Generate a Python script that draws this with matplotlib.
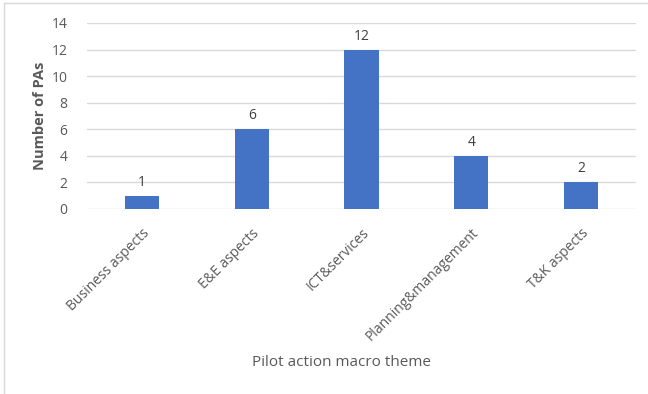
import numpy as np
import matplotlib.pyplot as plt
from matplotlib.lines import Line2D

themes = ['Business aspects', 'E&E aspects', 'ICT&services',
          'Planning&management', 'T&K aspects']
pas = [1, 6, 12, 4, 2]

plt.rcParams['font.family'] = ['Open Sans', 'DejaVu Sans']
grey = '#595959'

fig = plt.figure(figsize=(6.48, 3.94), dpi=100)
ax = fig.add_axes([87/648, 1 - 209/394, (636-87)/648, (209-23)/394])

x = np.arange(len(themes))
ax.bar(x, pas, width=0.31, color='#4472C4', zorder=3)
for xi, v in zip(x, pas):
    ax.text(xi, v + 0.45, str(v), ha='center', va='bottom', fontsize=10, color='#404040')

ax.set_xlim(-0.5, len(themes) - 0.5)
ax.set_ylim(0, 14)
ax.set_yticks(range(0, 15, 2))
ax.grid(axis='y', color='#d9d9d9', linewidth=1, zorder=0)
for s in ax.spines.values():
    s.set_visible(False)
ax.tick_params(axis='both', length=0, colors=grey, labelsize=10)
ax.tick_params(axis='y', pad=14)
ax.set_xticks(x)
ax.set_xticklabels(themes, rotation=45, ha='right', rotation_mode='anchor')
ax.tick_params(axis='x', pad=12)

fig.text(40/648, 1 - 116/394, 'Number of PAs', rotation=90, ha='center', va='center',
         fontsize=10.5, fontweight='bold', color=grey)
fig.text(342/648, 1 - 362/394, 'Pilot action macro theme', ha='center', va='center',
         fontsize=11, color=grey)

# chart frame
fig.add_artist(Line2D([4/648, 4/648], [0, 1 - 3/394], transform=fig.transFigure,
                      color='#d9d9d9', linewidth=1))
fig.add_artist(Line2D([4/648, 1], [1 - 3/394, 1 - 3/394], transform=fig.transFigure,
                      color='#d9d9d9', linewidth=1))

fig.savefig('out.png', dpi=100)
